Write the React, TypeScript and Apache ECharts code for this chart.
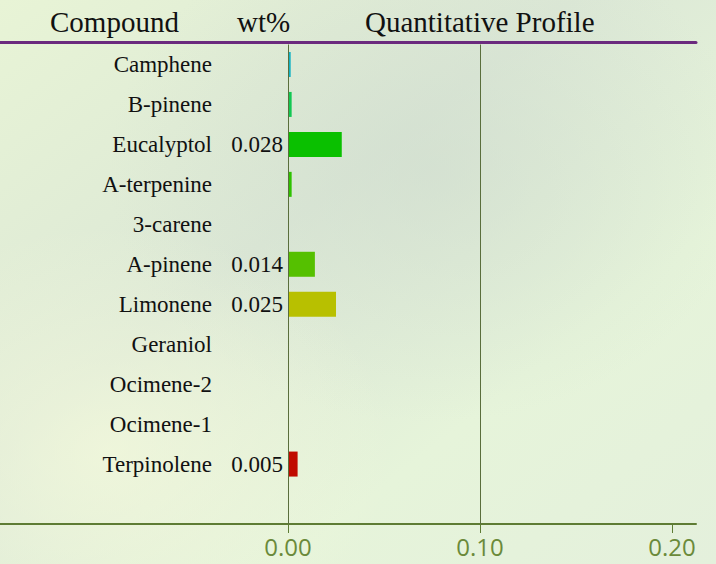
import React, { useEffect, useRef } from "react";
import * as echarts from "echarts";

const categories = [
  "Camphene",
  "B-pinene",
  "Eucalyptol",
  "A-terpenine",
  "3-carene",
  "A-pinene",
  "Limonene",
  "Geraniol",
  "Ocimene-2",
  "Ocimene-1",
  "Terpinolene",
  "",
];
const values = [0.0014, 0.0019, 0.028, 0.0019, 0, 0.014, 0.025, 0, 0, 0, 0.005, null];
const barColors = [
  "#12b2c4",
  "#12c852",
  "#0ac000",
  "#2ec200",
  "#80c000",
  "#55c000",
  "#b8c000",
  "#c0a000",
  "#c06000",
  "#c03000",
  "#c00a00",
  "#000000",
];
const tickValues = [0, 0.1, 0.2];
const gridLineValues = [0, 0.1];
const headers = ["Compound", "wt%", "Quantitative Profile"];
const headerX = [50, 237, 365];

export default function App() {
  const ref = useRef<HTMLDivElement>(null);
  useEffect(() => {
    if (!ref.current) return;
    const chart = echarts.init(ref.current, null, { renderer: "svg" });
    const xMin = -0.15;
    const xMax = 0.2125;
    const serif = "'Liberation Serif', 'Times New Roman', serif";
    chart.setOption({
      animation: false,
      backgroundColor: {
        type: "linear",
        x: 0,
        y: 0,
        x2: 1,
        y2: 1,
        colorStops: [
          { offset: 0, color: "#e8f4d6" },
          { offset: 0.4, color: "#dce8d6" },
          { offset: 0.7, color: "#e6f4da" },
          { offset: 1, color: "#e4f0dc" },
        ],
      },
      graphic: [
        {
          type: "rect",
          z: -10,
          silent: true,
          shape: { x: 0, y: 0, width: 716, height: 564 },
          style: {
            fill: {
              type: "radial",
              x: 0.6,
              y: 0.3,
              r: 0.45,
              colorStops: [
                { offset: 0, color: "rgba(205,218,205,0.55)" },
                { offset: 1, color: "rgba(205,218,205,0)" },
              ],
            },
          },
        },
        {
          type: "rect",
          z: -10,
          silent: true,
          shape: { x: 0, y: 0, width: 716, height: 564 },
          style: {
            fill: {
              type: "radial",
              x: 0.15,
              y: 0.8,
              r: 0.4,
              colorStops: [
                { offset: 0, color: "rgba(245,250,220,0.7)" },
                { offset: 1, color: "rgba(245,250,220,0)" },
              ],
            },
          },
        },
        ...headers.map((h, i) => ({
          type: "text",
          x: headerX[i],
          y: 22,
          style: {
            text: h,
            font: `29px ${serif}`,
            fill: "#111111",
            verticalAlign: "middle",
            align: "left",
          },
        })),
      ],
      grid: {
        left: 0,
        right: 20,
        top: 44.5,
        bottom: 40,
        containLabel: false,
        outerBoundsMode: "none",
      },
      xAxis: [
        {
          type: "value",
          position: "bottom",
          min: xMin,
          max: xMax,
          axisLine: { show: true, onZero: false, lineStyle: { color: "#5e7c34", width: 2 } },
          axisTick: {
            show: true,
            customValues: tickValues,
            length: 9,
            lineStyle: { color: "#5e7c34", width: 1 },
          },
          axisLabel: {
            customValues: tickValues,
            formatter: (v: number) => v.toFixed(2),
            color: "#6b8a3a",
            fontFamily: "'Open Sans', 'Noto Sans', sans-serif",
            fontSize: 24,
            margin: 10,
          },
          splitLine: { show: false },
        },
        {
          type: "value",
          position: "top",
          min: xMin,
          max: xMax,
          offset: 2,
          axisLine: { show: true, onZero: false, lineStyle: { color: "#6b2a7e", width: 3 } },
          axisTick: { show: false },
          axisLabel: { show: false },
          splitLine: { show: false },
        },
      ],
      yAxis: {
        type: "category",
        inverse: true,
        position: "left",
        offset: -288,
        data: categories,
        axisLine: { show: false, onZero: false },
        axisTick: { show: false },
        axisLabel: {
          color: "#111111",
          fontFamily: serif,
          fontSize: 23,
          margin: 76,
        },
        splitLine: { show: false },
      },
      series: [
        {
          type: "bar",
          xAxisIndex: 0,
          data: values.map((v, i) => ({ value: v, itemStyle: { color: barColors[i] } })),
          barWidth: 25,
          label: {
            show: true,
            position: "left",
            distance: 5,
            color: "#111111",
            fontFamily: serif,
            fontSize: 23,
            formatter: (p: any) => (p.value != null && p.value >= 0.005 ? p.value.toFixed(3) : ""),
          },
          markLine: {
            silent: true,
            symbol: "none",
            label: { show: false },
            lineStyle: { color: "#5a6e3c", width: 1, type: "solid" },
            data: gridLineValues.map((v) => ({ xAxis: v })),
          },
        },
      ],
    });
    return () => chart.dispose();
  }, []);
  return (
    <div
      ref={ref}
      style={{ position: "fixed", left: 0, top: 0, width: 716, height: 564 }}
    />
  );
}
